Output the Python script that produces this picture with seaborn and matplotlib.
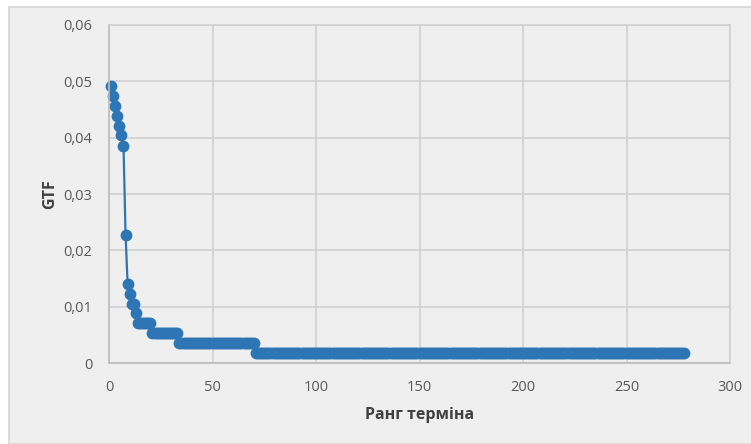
import numpy as np
import pandas as pd
import seaborn as sns
import matplotlib.pyplot as plt
from matplotlib import ticker
from matplotlib.patches import Rectangle

# ранги 1..13 — окремі значення
head_gtf = [0.0491, 0.0474, 0.0456, 0.0439, 0.0421, 0.0404, 0.0386,
            0.0228, 0.0140, 0.0123, 0.0105, 0.0105, 0.0088]
# далі — сходинки (рівень, кількість термінів)
step_levels = [0.00702, 0.00526, 0.00351, 0.00175]
step_counts = [7, 13, 37, 208]

gtf = np.concatenate([head_gtf, np.repeat(step_levels, step_counts)])
df = pd.DataFrame({"rank": np.arange(1, len(gtf) + 1), "gtf": gtf})

sns.set_style("white")
plt.rcParams["font.family"] = ["Open Sans", "DejaVu Sans"]

fig = plt.figure(figsize=(7.51, 4.44), dpi=100, facecolor="white")
fig.patches.append(Rectangle((9 / 751, 0), 1, 1 - 7 / 444, transform=fig.transFigure,
                             facecolor="#efefef", edgecolor="#d6d6d6", lw=1.2, zorder=-1))
ax = fig.add_axes([109 / 751, 81 / 444, 621 / 751, 338 / 444])
ax.set_facecolor("#efefef")

sns.lineplot(data=df, x="rank", y="gtf", ax=ax, color="#2e75b6", lw=1.6,
             marker="o", markersize=8.5, markeredgewidth=0, clip_on=False)

ax.set_xlim(0, 300)
ax.set_ylim(0, 0.06)
ax.set_xticks(np.arange(0, 301, 50))
ax.set_yticks(np.arange(0, 0.061, 0.01))
ax.yaxis.set_major_formatter(ticker.FuncFormatter(
    lambda v, p: "0" if abs(v) < 1e-9 else f"{v:.2f}".replace(".", ",")))
ax.grid(True, color="#d0d0d0", lw=1.2)
for s in ax.spines.values():
    s.set_color("#d0d0d0")
    s.set_linewidth(1.2)
ax.spines["left"].set_color("#bcbcbc")
ax.spines["bottom"].set_color("#bcbcbc")
ax.tick_params(length=0, labelsize=10.5, labelcolor="#595959", pad=12)

ax.set_xlabel("Ранг терміна", fontsize=11.5, fontweight="bold", color="#404040", labelpad=9)
ax.set_ylabel("GTF", fontsize=11.5, fontweight="bold", color="#404040", labelpad=4)

fig.savefig("out.png", dpi=100, facecolor=fig.get_facecolor())
